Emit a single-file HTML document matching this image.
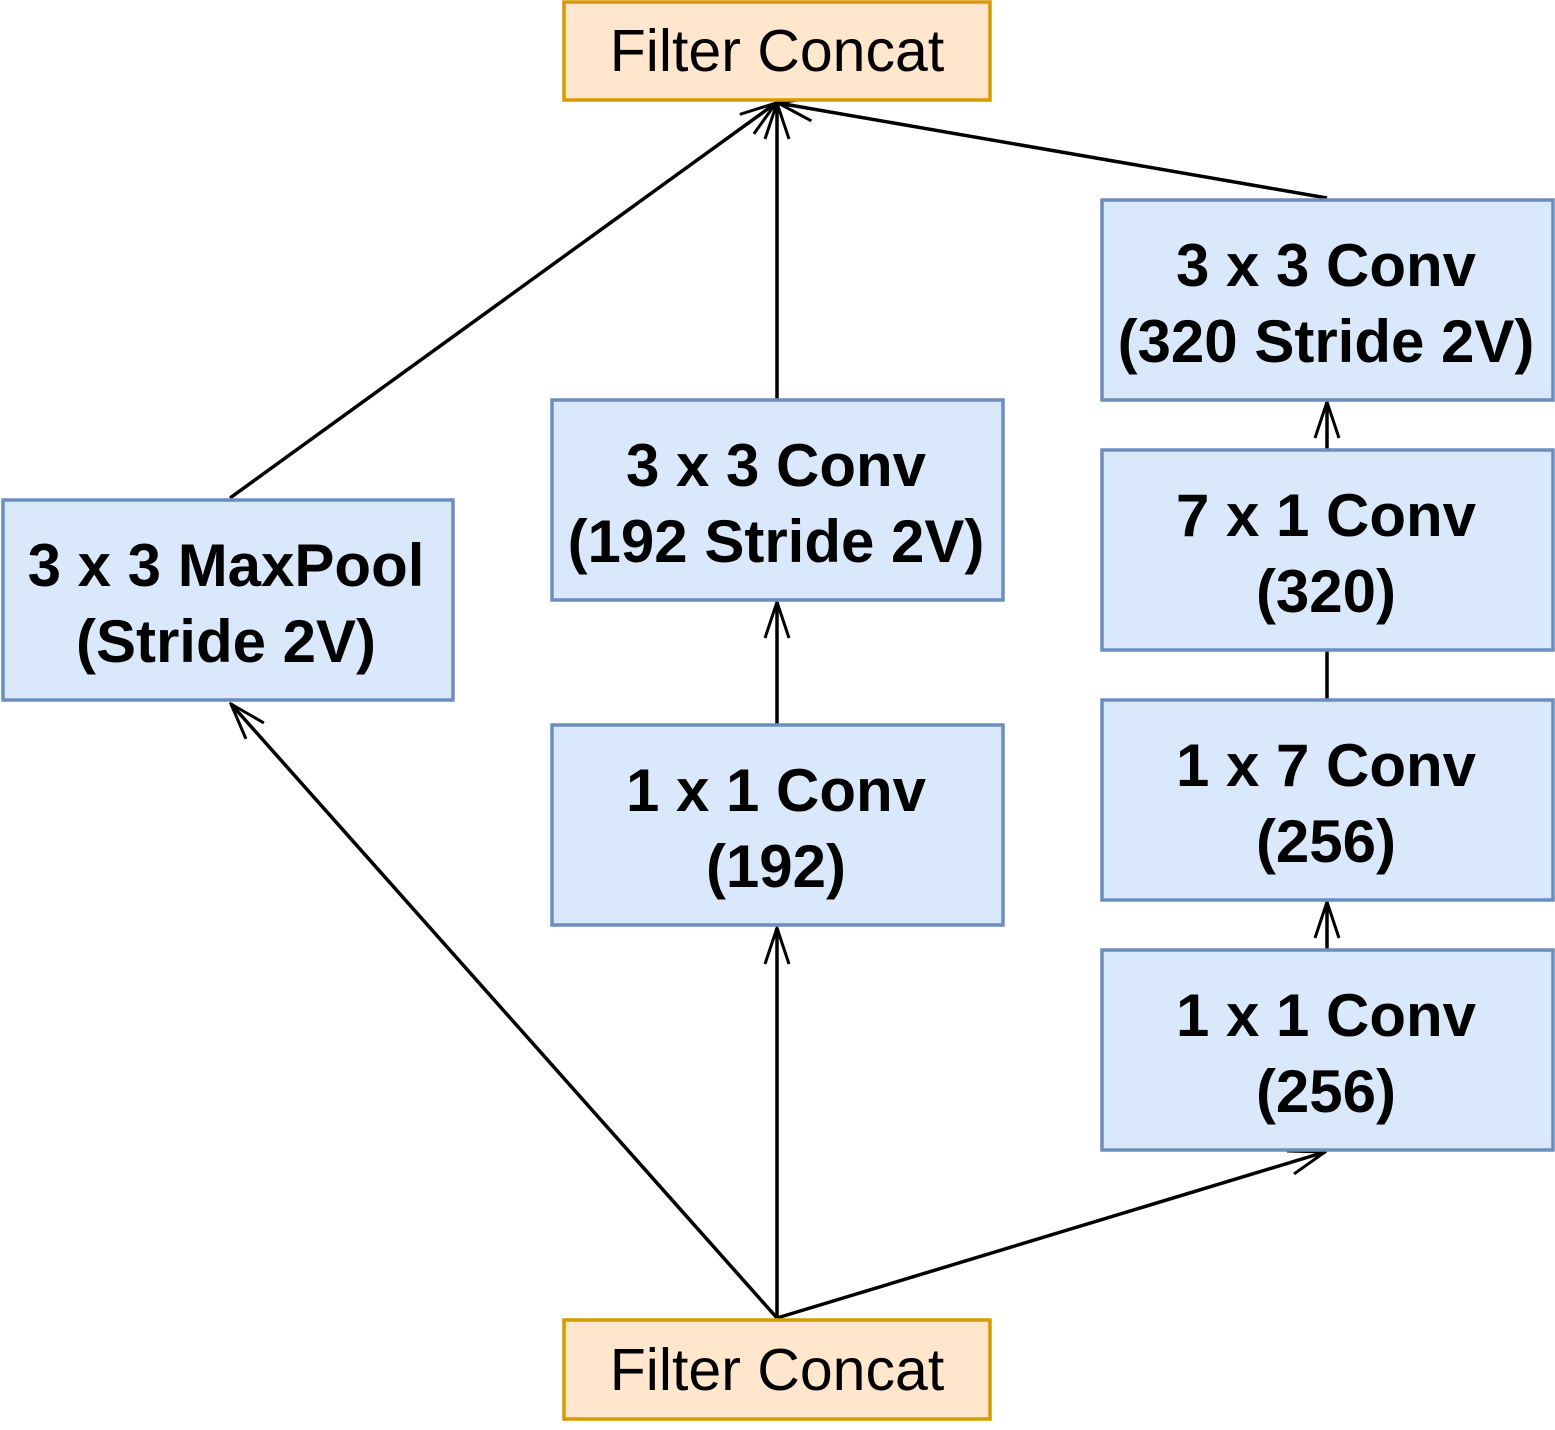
<!DOCTYPE html>
<html><head><style>body{margin:0;background:#fff}</style></head><body>
<svg width="1555" height="1425" viewBox="0 0 1555 1425" xmlns="http://www.w3.org/2000/svg">
<defs>
<marker id="b" viewBox="0 0 40 40" refX="38" refY="20" markerWidth="40" markerHeight="40" markerUnits="userSpaceOnUse" orient="auto">
<path d="M2,8 L38,20 L2,32" fill="none" stroke="#000" stroke-width="3"/>
</marker>
</defs>
<g stroke="#000" stroke-width="3.5" fill="none">
<line x1="777" y1="1318" x2="231" y2="704" marker-end="url(#b)"/>
<line x1="777" y1="1318" x2="777" y2="928" marker-end="url(#b)"/>
<line x1="777" y1="1318" x2="1325" y2="1152" marker-end="url(#b)"/>
<line x1="777" y1="725" x2="777" y2="602" marker-end="url(#b)"/>
<line x1="777" y1="400" x2="777" y2="103" marker-end="url(#b)"/>
<line x1="230" y1="498" x2="776" y2="103" marker-end="url(#b)"/>
<line x1="1327" y1="198" x2="778" y2="103" marker-end="url(#b)"/>
<line x1="1327" y1="950" x2="1327" y2="902" marker-end="url(#b)"/>
<line x1="1327" y1="700" x2="1327" y2="650"/>
<line x1="1327" y1="450" x2="1327" y2="402" marker-end="url(#b)"/>
</g>
<g stroke-width="3.5">
<rect x="564" y="2" width="426" height="98" fill="#ffe6cc" stroke="#d79b00"/>
<rect x="564" y="1320" width="426" height="99" fill="#ffe6cc" stroke="#d79b00"/>
<g fill="#dae8fc" stroke="#6c8ebf">
<rect x="3" y="500" width="450" height="200"/>
<rect x="552" y="400" width="451" height="200"/>
<rect x="552" y="725" width="451" height="200"/>
<rect x="1102" y="200" width="451" height="200"/>
<rect x="1102" y="450" width="451" height="200"/>
<rect x="1102" y="700" width="451" height="200"/>
<rect x="1102" y="950" width="451" height="200"/>
</g>
</g>
<g font-family="Liberation Sans, Arial, sans-serif" font-size="60" text-anchor="middle">
<text x="777" y="71" font-size="59">Filter Concat</text>
<text x="777" y="1390" font-size="59">Filter Concat</text>
<g font-weight="bold">
<text x="226" y="586">3 x 3 MaxPool</text><text x="226" y="662">(Stride 2V)</text>
<text x="776" y="486">3 x 3 Conv</text><text x="776" y="562">(192 Stride 2V)</text>
<text x="776" y="811">1 x 1 Conv</text><text x="776" y="887">(192)</text>
<text x="1326" y="286">3 x 3 Conv</text><text x="1326" y="362">(320 Stride 2V)</text>
<text x="1326" y="536">7 x 1 Conv</text><text x="1326" y="612">(320)</text>
<text x="1326" y="786">1 x 7 Conv</text><text x="1326" y="862">(256)</text>
<text x="1326" y="1036">1 x 1 Conv</text><text x="1326" y="1112">(256)</text>
</g></g>
</svg>
</body></html>
